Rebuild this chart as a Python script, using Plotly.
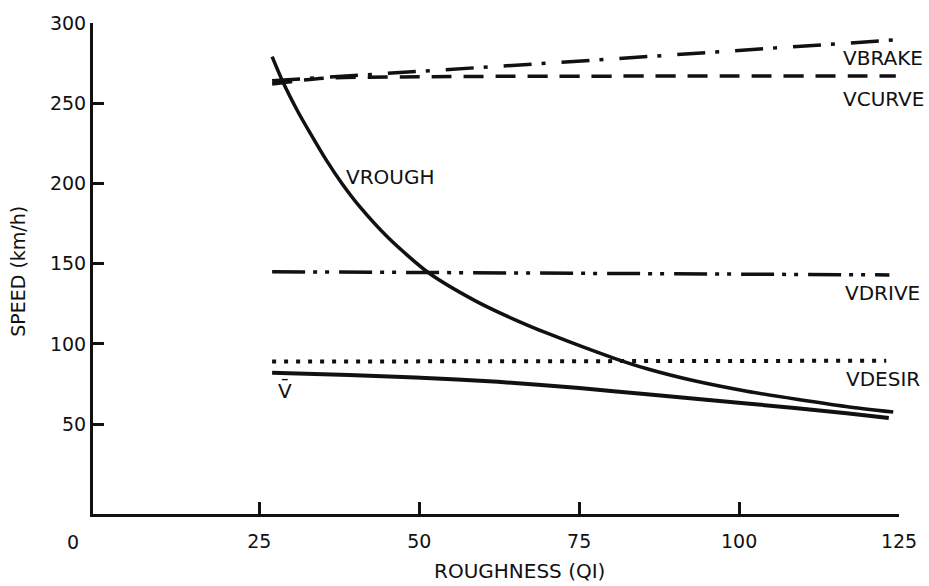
import plotly.graph_objects as go

# ---- data ----
x_tick_vals = [25, 50, 75, 100, 125]
y_tick_vals = [50, 100, 150, 200, 250, 300]

vrough_x = [27, 28.6, 31, 33, 35.4, 38, 40.6, 45.2, 51.4, 58.7, 65, 70.1, 80.5, 85.6, 93, 101.2, 109, 116.7, 124.1]
vrough_y = [279, 264, 245, 231, 215, 199.5, 186, 166, 144.5, 127, 115, 106.5, 91, 84.5, 77, 70.5, 65.5, 61, 57.5]

vbar_x = [27, 39, 49.4, 62.3, 75, 85.6, 101.2, 116.8, 123.4]
vbar_y = [82, 80.7, 79, 76.4, 72.5, 68.6, 62.9, 56.8, 53.8]

vdesir_x = [27, 123]
vdesir_y = [89, 89.5]

vdrive_x = [27, 123.5]
vdrive_y = [145, 143]

vcurve_x = [27, 35, 50, 124.5]
vcurve_y = [262, 265.5, 266.5, 267]

vbrake_x = [27, 78, 124.5]
vbrake_y = [264, 277, 289.5]

INK = "#111111"
FONT = "DejaVu Sans"

fig = go.Figure()

def add_line(x, y, dash, width=4, shape="linear", smoothing=None):
    fig.add_trace(go.Scatter(x=x, y=y, mode="lines",
                             line=dict(color=INK, width=width, dash=dash, shape=shape,
                                       smoothing=smoothing),
                             showlegend=False, hoverinfo="skip"))

add_line(vbrake_x, vbrake_y, "28px,10px,4px,16px", 3.5)
add_line(vcurve_x, vcurve_y, "20px,12px", 3.5, "spline", 0.8)
add_line(vdrive_x, vdrive_y, "33px,8px,4px,8px,4px,10px", 3.5)
add_line(vdesir_x, vdesir_y, "4px,8px", 4)
add_line(vrough_x, vrough_y, "solid", 3.5, "spline", 0.7)
add_line(vbar_x, vbar_y, "solid", 4, "spline", 0.7)

labels = [
    ("VBRAKE", 116.0, 277.9),
    ("VCURVE", 116.0, 252.7),
    ("VROUGH", 38.2, 204.2),
    ("VDRIVE", 116.3, 131.7),
    ("VDESIR", 116.4, 78.3),
]
annotations = []
for t, xx, yy in labels:
    annotations.append(dict(text=t, x=xx, y=yy, xref="x", yref="y",
                            xanchor="left", yanchor="middle", showarrow=False,
                            font=dict(family=FONT, size=20, color=INK)))
annotations.append(dict(text="V\u0304", x=27.6, y=71, xref="x", yref="y",
                        xanchor="left", yanchor="middle", showarrow=False,
                        font=dict(family=FONT, size=20, color=INK)))
annotations.append(dict(text="0", x=-0.0247, y=-0.0562, xref="paper", yref="paper",
                        xanchor="center", yanchor="middle", showarrow=False,
                        font=dict(family=FONT, size=19, color=INK)))
annotations.append(dict(text="ROUGHNESS (QI)", x=0.5296, y=-0.1165, xref="paper", yref="paper",
                        xanchor="center", yanchor="middle", showarrow=False,
                        font=dict(family=FONT, size=20, color=INK)))
annotations.append(dict(text="SPEED (km/h)", x=-0.0926, y=0.494, xref="paper", yref="paper",
                        xanchor="center", yanchor="middle", showarrow=False, textangle=-90,
                        font=dict(family=FONT, size=19, color=INK)))

fig.update_layout(
    width=929, height=586,
    margin=dict(l=93, r=26, t=16, b=72),
    paper_bgcolor="white", plot_bgcolor="white",
    annotations=annotations,
    xaxis=dict(range=[-1, 125], tickvals=x_tick_vals, ticktext=[str(v) for v in x_tick_vals],
               showline=True, linecolor=INK, linewidth=3, ticks="inside", ticklen=12,
               tickwidth=3, tickcolor=INK, showgrid=False, zeroline=False,
               ticklabelstandoff=8,
               tickfont=dict(family=FONT, size=19, color=INK)),
    yaxis=dict(range=[-6, 300], tickvals=y_tick_vals, ticktext=[str(v) for v in y_tick_vals],
               showline=True, linecolor=INK, linewidth=3, ticks="inside", ticklen=11,
               tickwidth=3, tickcolor=INK, showgrid=False, zeroline=False,
               tickfont=dict(family=FONT, size=19, color=INK)),
)

fig.write_html("out.html")
